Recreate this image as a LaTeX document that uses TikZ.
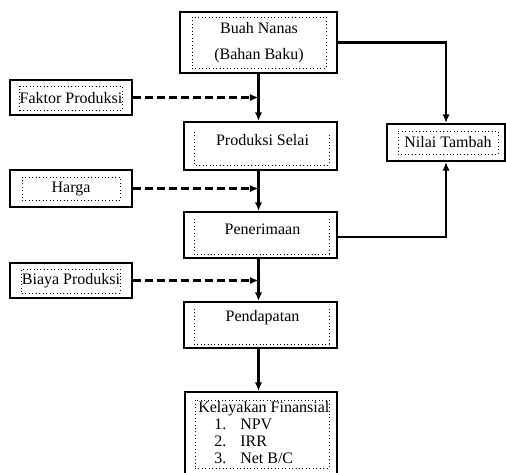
\documentclass[tikz,border=0pt]{standalone}
\usepackage{fontspec}
\setmainfont{Liberation Serif}
\usetikzlibrary{arrows.meta}

\def\px{0.75pt}
\tikzset{
	outerbox/.style={draw, line width=1.5pt, inner sep=0pt},
	innerbox/.style={draw, dotted, line width=0.6pt, inner sep=1pt},
	link/.style={line width=1.6pt, -{Latex[length=6.5pt,width=5.5pt]}},
	dashlink/.style={link, dash pattern=on 6pt off 3pt},
}

\begin{document}
\begin{tikzpicture}[x=0.75pt, y=-0.75pt, line join=miter, font=\fontsize{12}{14}\selectfont]
		% Window in pixel units (y grows downwards)
		\clip (0,0) rectangle (506,472);
		
		% Raw material at the top
		\node[outerbox, minimum width=157*\px, minimum height=61*\px] (nanas) at (258.5,42.5) {};
		\node[innerbox, minimum width=134*\px, minimum height=51*\px, align=center,
			font=\fontsize{12}{20}\selectfont] (nanas-in) at (259,42.5) {Buah Nanas\\(Bahan Baku)};
		
		% Main column boxes (inner dotted frame open at the top)
		\node[outerbox, minimum width=153*\px, minimum height=48*\px] (produksi) at (260.5,146) {};
		\draw[innerbox] ([shift={(11,11)}]produksi.north west) |- ([shift={(-9,-6)}]produksi.south east)
			-- ([shift={(-9,11)}]produksi.north east);
		\node (produksi-txt) at (262.5,140) {Produksi Selai};
		
		\node[outerbox, minimum width=153*\px, minimum height=46*\px] (penerimaan) at (260.5,235) {};
		\draw[innerbox] ([shift={(11,8)}]penerimaan.north west) |- ([shift={(-9,-5)}]penerimaan.south east)
			-- ([shift={(-9,8)}]penerimaan.north east);
		\node (penerimaan-txt) at (262.5,229) {Penerimaan};
		
		\node[outerbox, minimum width=153*\px, minimum height=46*\px] (pendapatan) at (260.5,325) {};
		\draw[innerbox] ([shift={(11,8)}]pendapatan.north west) |- ([shift={(-9,-5)}]pendapatan.south east)
			-- ([shift={(-9,8)}]pendapatan.north east);
		\node (pendapatan-txt) at (262.5,318) {Pendapatan};
		
		% Financial feasibility (runs past the lower edge)
		\node[outerbox, minimum width=152*\px, minimum height=90*\px] (kelayakan) at (261,437) {};
		\node[innerbox, minimum width=134*\px, minimum height=68*\px] (kelayakan-in) at (262,434) {};
		\node[anchor=north west, align=left, inner sep=0pt, font=\fontsize{12}{12.75}\selectfont]
			(kelayakan-txt) at (198,401.5) {Kelayakan Finansial\\
			\hspace*{12pt}\makebox[19.5pt][l]{1.}NPV\\
			\hspace*{12pt}\makebox[19.5pt][l]{2.}IRR\\
			\hspace*{12pt}\makebox[19.5pt][l]{3.}Net B/C};
		
		% Inputs on the left
		\node[outerbox, minimum width=122*\px, minimum height=35*\px] (faktor) at (71,97.5) {};
		\node[innerbox, minimum width=98*\px, minimum height=24*\px, inner sep=0pt] (faktor-in) at (71,98) {Faktor Produksi};
		
		\node[outerbox, minimum width=122*\px, minimum height=37*\px] (harga) at (71,188.5) {};
		\node[innerbox, minimum width=98*\px, minimum height=23*\px] (harga-in) at (71,188.5) {Harga};
		
		\node[outerbox, minimum width=122*\px, minimum height=35*\px] (biaya) at (71,280.5) {};
		\node[innerbox, minimum width=98*\px, minimum height=24*\px, inner sep=0pt] (biaya-in) at (71,281) {Biaya Produksi};
		
		% Value added on the right
		\node[outerbox, minimum width=118*\px, minimum height=37*\px] (nilai) at (446,142.5) {};
		\node[innerbox, minimum width=100*\px, minimum height=23*\px] (nilai-in) at (448,142.5) {Nilai Tambah};
		
		% Main flow
		\draw[link] (nanas.south) -- (nanas.south |- produksi.north);
		\draw[link] (produksi.south -| nanas.south) -- (penerimaan.north -| nanas.south);
		\draw[link] (penerimaan.south -| nanas.south) -- (pendapatan.north -| nanas.south);
		\draw[link] (pendapatan.south -| nanas.south) -- (kelayakan.north -| nanas.south);
		
		% Dashed inputs
		\draw[dashlink] (faktor.east) -- (faktor.east -| nanas.south);
		\draw[dashlink] (harga.east) -- (harga.east -| nanas.south);
		\draw[dashlink] (biaya.east) -- (biaya.east -| nanas.south);
		
		% Branches to value added
		\draw[link] (nanas.east) -- (nanas.east -| nilai.north) -- (nilai.north);
		\draw[link] ([yshift=-1.5pt]penerimaan.east) -- ([yshift=-1.5pt]penerimaan.east -| nilai.south) -- (nilai.south);
	\end{tikzpicture}
\end{document}
